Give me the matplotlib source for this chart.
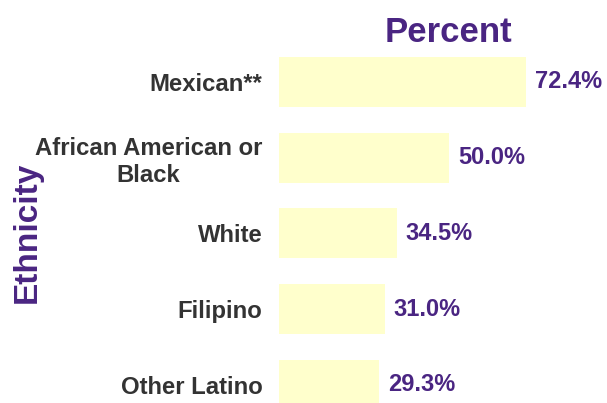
import matplotlib
matplotlib.use("Agg")
import matplotlib.pyplot as plt

categories = ["Mexican**", "African American or\nBlack", "White", "Filipino", "Other Latino"]
values = [72.4, 50.0, 34.5, 31.0, 29.3]
value_labels = ["72.4%", "50.0%", "34.5%", "31.0%", "29.3%"]

purple = "#4a2582"
gray = "#333333"
bar_color = "#ffffcc"

W, H = 607, 403
fig = plt.figure(figsize=(W / 100, H / 100), dpi=100)
left, right, top, bottom = 279, 607, 44, 403
ax = fig.add_axes([left / W, 1 - bottom / H, (right - left) / W, (bottom - top) / H])

pos = list(range(len(categories)))
ax.barh(pos, values, height=0.66, color=bar_color, edgecolor="none")
ax.set_xlim(0, 96.2)
ax.set_ylim(4.24, -0.5)

for p, v, lab in zip(pos, values, value_labels):
    ax.annotate(lab, (v, p), xytext=(6.5, 0), textcoords="offset points",
                va="center", ha="left", fontsize=17, fontweight="bold",
                color=purple, family="Liberation Sans")

ax.set_yticks(pos)
ax.set_yticklabels(categories, fontsize=17.2, fontweight="bold", color=gray,
                   family="Liberation Sans")
for t in ax.get_yticklabels():
    t.set_multialignment("center")
ax.tick_params(axis="y", length=0, pad=12)
ax.set_xticks([])
for s in ax.spines.values():
    s.set_visible(False)

fig.text(448 / W, 1 - 32 / H, "Percent", ha="center", va="center",
         fontsize=25, fontweight="bold", color=purple, family="Liberation Sans")
fig.text(27 / W, 1 - 232 / H, "Ethnicity", ha="center", va="center", rotation=90,
         fontsize=24, fontweight="bold", color=purple, family="Liberation Sans")

fig.savefig("out.png", dpi=100)
